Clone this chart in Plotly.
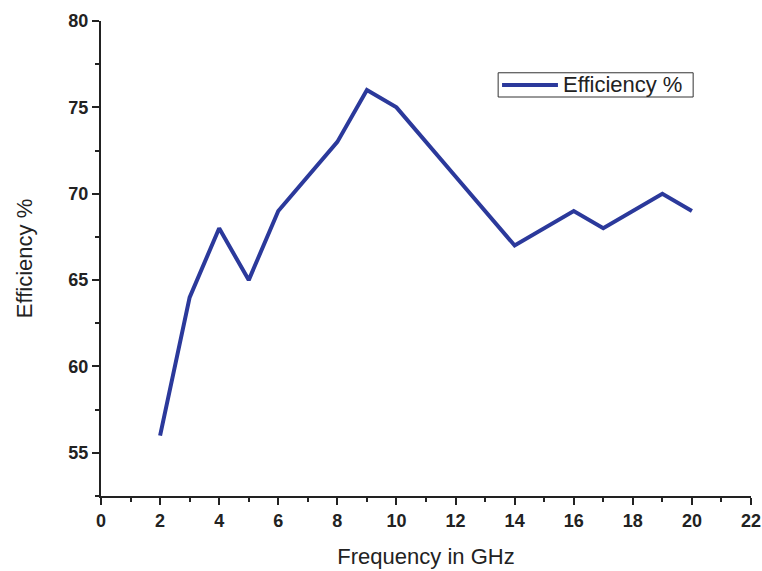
import plotly.graph_objects as go

# Antenna efficiency measured across the frequency band
frequency_ghz = [2, 3, 4, 5, 6, 8, 9, 10, 12, 14, 16, 17, 19, 20]
efficiency_pct = [56, 64, 68, 65, 69, 73, 76, 75, 71, 67, 69, 68, 70, 69]
series_name = "Efficiency %"

x_ticks = [0, 2, 4, 6, 8, 10, 12, 14, 16, 18, 20, 22]
y_ticks = [55, 60, 65, 70, 75, 80]

line_color = "rgb(43,57,155)"
ink = "#222"
family = "Liberation Sans, Arial, sans-serif"
tick_font = dict(family=family, size=18, color=ink, weight="bold")
title_font = dict(family=family, size=22, color=ink)

fig = go.Figure()
fig.add_trace(go.Scatter(
    x=frequency_ghz, y=efficiency_pct, mode="lines", name=series_name,
    line=dict(color=line_color, width=4), showlegend=False,
))

axis_common = dict(
    showline=True, linecolor=ink, linewidth=2, showgrid=False, zeroline=False,
    ticks="outside", ticklen=7, tickwidth=2, tickcolor=ink, tickfont=tick_font,
    minor=dict(ticks="outside", ticklen=4, tickwidth=2, tickcolor=ink, showgrid=False),
    automargin=False,
)

fig.update_xaxes(
    range=[0, 22], tickvals=x_ticks, ticktext=[str(v) for v in x_ticks],
    title=dict(text="Frequency in GHz", font=title_font, standoff=19),
    **axis_common,
)
fig.update_yaxes(
    range=[52.5, 80], tickvals=y_ticks, ticktext=[str(v) for v in y_ticks],
    title=dict(text="Efficiency %", font=title_font, standoff=30),
    **axis_common,
)
fig.update_xaxes(minor_dtick=1, minor_tick0=0)
fig.update_yaxes(minor_dtick=2.5, minor_tick0=0)

# Boxed legend in the upper right of the plot area
fig.add_shape(type="rect", xref="paper", yref="paper",
              x0=0.611, x1=0.911, y0=0.840, y1=0.891,
              line=dict(color="#333", width=1), fillcolor="white", layer="above")
fig.add_shape(type="line", xref="paper", yref="paper",
              x0=0.617, x1=0.703, y0=0.8655, y1=0.8655,
              line=dict(color=line_color, width=4), layer="above")
fig.add_annotation(text=series_name, xref="paper", yref="paper",
                   x=0.708, y=0.8655, xanchor="left", yanchor="middle",
                   showarrow=False, font=dict(family=family, size=22, color=ink))

fig.update_layout(
    width=762, height=571,
    margin=dict(l=101, r=11, t=21, b=75),
    plot_bgcolor="white", paper_bgcolor="white",
)

fig.write_html("out.html")
